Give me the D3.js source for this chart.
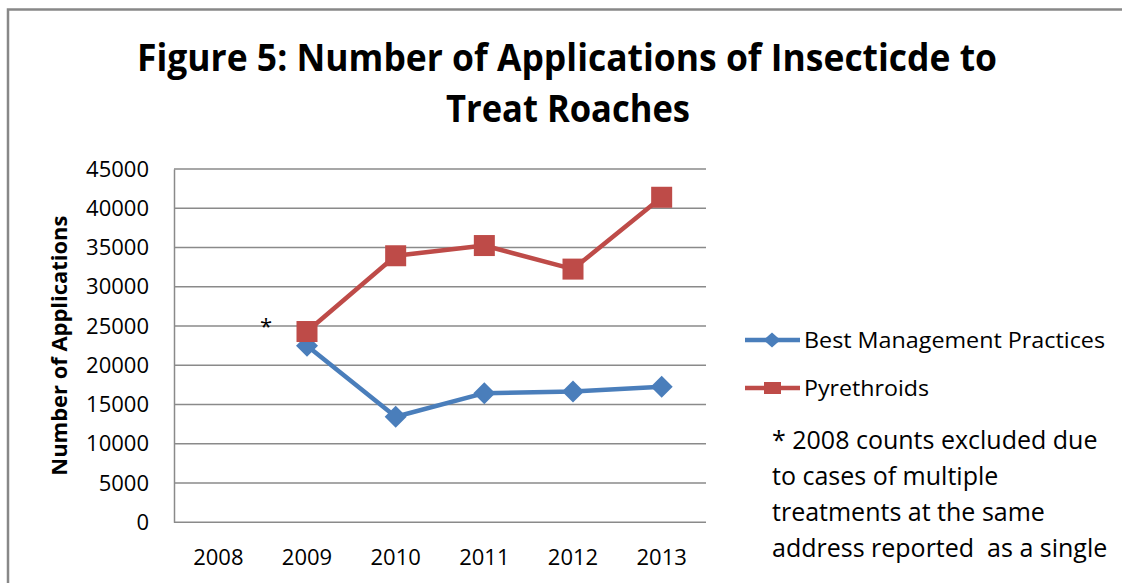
<!DOCTYPE html>
<html>
<head>
<meta charset="utf-8">
<script src="https://cdn.jsdelivr.net/npm/d3@7"></script>
<style>
  html, body { margin: 0; padding: 0; background: #fff; }
  svg { display: block; }
  text { font-family: "Open Sans", "Liberation Sans", sans-serif; fill: #000; }
</style>
</head>
<body>
<svg id="chart" width="1122" height="583"></svg>
<script>
const years = ["2008", "2009", "2010", "2011", "2012", "2013"];
const bmpValues = [null, 22500, 13450, 16450, 16650, 17250];
const pyrValues = [null, 24300, 33950, 35250, 32250, 41400];
const yTicks = [0, 5000, 10000, 15000, 20000, 25000, 30000, 35000, 40000, 45000];
const seriesNames = ["Best Management Practices", "Pyrethroids"];
const titleLines = ["Figure 5: Number of Applications of Insecticde to", "Treat Roaches"];
const yTitle = "Number of Applications";
const noteLines = ["* 2008 counts excluded due", "to cases of multiple", "treatments at the same", "address reported  as a single"];

const W = 1122, H = 583;
const svg = d3.select("#chart");
const blue = "#4A7EBB", red = "#BE4B48";

// outer frame
svg.append("path")
  .attr("d", "M8,600 L8,9.5 L1130,9.5")
  .attr("fill", "none").attr("stroke", "#888").attr("stroke-width", 2.5);

// title
const tl = svg.append("g");
tl.append("text").attr("x", 567).attr("y", 70.5).attr("text-anchor", "middle")
  .attr("font-weight", "bold").attr("font-size", 37)
  .attr("textLength", 860).attr("lengthAdjust", "spacingAndGlyphs")
  .text(titleLines[0]);
tl.append("text").attr("x", 568).attr("y", 121.5).attr("text-anchor", "middle")
  .attr("font-weight", "bold").attr("font-size", 37)
  .attr("textLength", 244).attr("lengthAdjust", "spacingAndGlyphs")
  .text(titleLines[1]);

const plot = {left: 174, right: 706, top: 169, bottom: 522.3};
const x = d3.scaleBand().domain(years).range([plot.left, plot.right]);
const y = d3.scaleLinear().domain([0, 45000]).range([plot.bottom, plot.top]);
const cx = d => x(d) + x.bandwidth() / 2;

// gridlines
svg.append("g").selectAll("line").data(yTicks).join("line")
  .attr("x1", plot.left).attr("x2", plot.right)
  .attr("y1", d => y(d)).attr("y2", d => y(d))
  .attr("stroke", "#8a8a8a").attr("stroke-width", 1.5);

// y axis
const yAxis = svg.append("g").attr("transform", `translate(${plot.left},0)`)
  .call(d3.axisLeft(y).tickValues(yTicks).tickSize(0).tickPadding(25).tickFormat(d3.format("d")));
yAxis.select(".domain").attr("stroke", "#8a8a8a").attr("stroke-width", 1.5);
yAxis.selectAll("text").attr("font-size", 22).attr("fill", "#222")
  .attr("font-family", "Open Sans, sans-serif");

// x axis
const xAxis = svg.append("g").attr("transform", `translate(0,${plot.bottom})`)
  .call(d3.axisBottom(x).tickSize(0).tickPadding(27));
xAxis.select(".domain").remove();
xAxis.selectAll("text").attr("font-size", 22).attr("fill", "#222")
  .attr("font-family", "Open Sans, sans-serif");

// y title
svg.append("text")
  .attr("transform", `translate(67,${(plot.top + plot.bottom) / 2}) rotate(-90)`)
  .attr("text-anchor", "middle").attr("font-weight", "bold").attr("font-size", 21)
  .attr("textLength", 260).attr("lengthAdjust", "spacingAndGlyphs")
  .text(yTitle);

// asterisk annotation
svg.append("text").attr("x", 266).attr("y", 334).attr("text-anchor", "middle")
  .attr("font-size", 22).text("*");

const line = d3.line().defined(d => d.v != null).x(d => cx(d.k)).y(d => y(d.v));
const bmp = years.map((k, i) => ({k, v: bmpValues[i]}));
const pyr = years.map((k, i) => ({k, v: pyrValues[i]}));

function diamondPath(s) { return `M0,${-s}L${s},0L0,${s}L${-s},0Z`; }

// BMP series
svg.append("path").datum(bmp).attr("d", line)
  .attr("fill", "none").attr("stroke", blue).attr("stroke-width", 4.5).attr("stroke-linejoin", "round");
// Pyrethroid series
svg.append("path").datum(pyr).attr("d", line)
  .attr("fill", "none").attr("stroke", red).attr("stroke-width", 4.5).attr("stroke-linejoin", "round");

svg.append("g").selectAll("path").data(bmp.filter(d => d.v != null)).join("path")
  .attr("transform", d => `translate(${cx(d.k)},${y(d.v)})`)
  .attr("d", diamondPath(11)).attr("fill", blue);

svg.append("g").selectAll("rect").data(pyr.filter(d => d.v != null)).join("rect")
  .attr("x", d => cx(d.k) - 10.5).attr("y", d => y(d.v) - 10.5)
  .attr("width", 21).attr("height", 21).attr("fill", red);

// legend
const leg = svg.append("g");
const legY = [340, 388];
const legColors = [blue, red];
seriesNames.forEach((name, i) => {
  leg.append("line").attr("x1", 745).attr("x2", 800).attr("y1", legY[i]).attr("y2", legY[i])
    .attr("stroke", legColors[i]).attr("stroke-width", 4.5);
  if (i === 0) {
    leg.append("path").attr("transform", `translate(772,${legY[i]})`)
      .attr("d", "M0,-7.5L8.5,0L0,7.5L-8.5,0Z").attr("fill", blue);
  } else {
    leg.append("rect").attr("x", 764).attr("y", legY[i] - 6).attr("width", 17).attr("height", 12).attr("fill", red);
  }
  leg.append("text").attr("x", 804).attr("y", legY[i] + 8).attr("font-size", 22).attr("fill", "#222")
    .attr("textLength", i === 0 ? 301 : 125).attr("lengthAdjust", "spacingAndGlyphs")
    .text(name);
});

// note
const noteBase = [449, 485, 521, 557];
svg.append("g").selectAll("text").data(noteLines).join("text")
  .attr("x", 772).attr("y", (d, i) => noteBase[i]).attr("font-size", 25)
  .attr("xml:space", "preserve").style("white-space", "pre")
  .text(d => d);
</script>
</body>
</html>
